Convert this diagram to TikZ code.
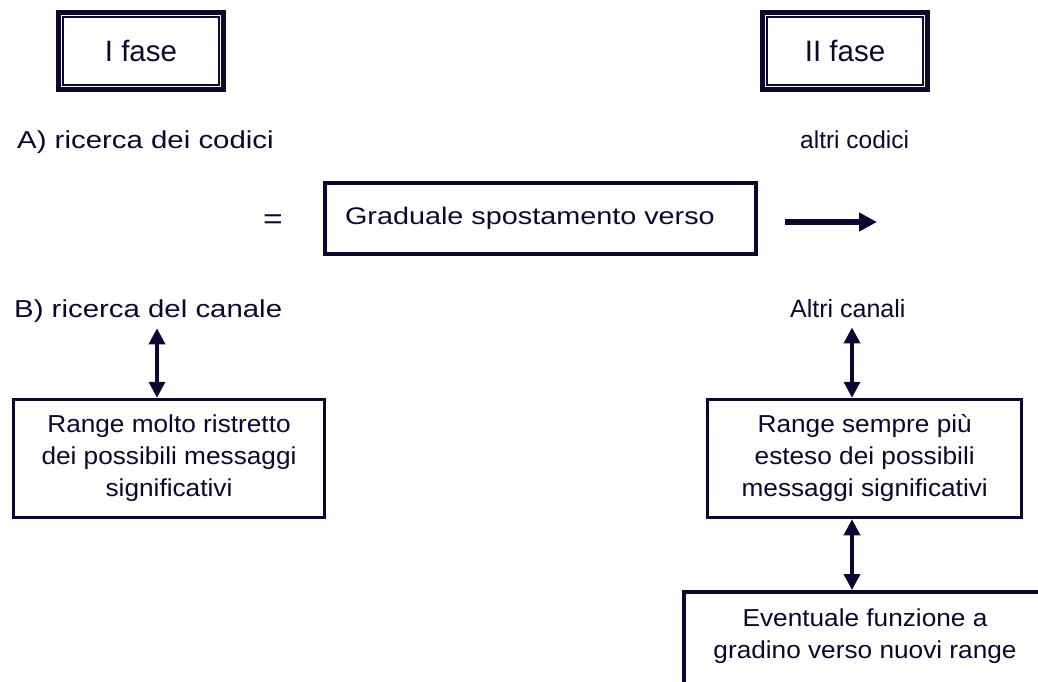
\documentclass[tikz,border=0pt]{standalone}
\usepackage{fontspec}
\setmainfont{Liberation Sans}
\newfontfamily\widefont{Liberation Sans}[FakeStretch=1.2]
\newfontfamily\midfont{Liberation Sans}[FakeStretch=1.07]
\usetikzlibrary{arrows.meta}
\definecolor{ink}{RGB}{14,6,48}

\begin{document}
\begin{tikzpicture}[x=1pt,y=-1pt,>={Triangle[length=16pt,width=16pt]}]
	\useasboundingbox (0,0) rectangle (1038,681);
	\clip (0,0) rectangle (1038,681);
	\begin{scope}[every node/.style={draw=ink,line width=5pt,minimum width=165pt,minimum height=77pt,text=ink,font=\fontsize{29.5}{34}\selectfont}]
		\node (F1) at (141,51) {I fase};
		\node (F2) at (845,51) {II fase};
	\end{scope}
	\foreach \n in {F1,F2}
		\draw [ink,line width=1.5pt] ([shift={(7pt,-7pt)}]\n.north west) rectangle ([shift={(-7pt,7pt)}]\n.south east);
	
	\begin{scope}[every node/.style={text=ink,inner sep=0pt,font=\fontsize{24.5}{31}\selectfont}]
		\node [anchor=base west,font=\widefont\fontsize{24.5}{31}\selectfont] (A) at (17,148) {A) ricerca dei codici};
		\node [anchor=base west] (AC) at (800,148) {altri codici};
		\node [anchor=base west,font=\widefont\fontsize{24.5}{31}\selectfont] (B) at (14,317) {B) ricerca del canale};
		\node [anchor=base west,font=\fontsize{25}{31}\selectfont] (BC) at (790,317) {Altri canali};
		\node [font=\widefont\fontsize{28}{31}\selectfont] (EQ) at (273,222) {=};
	\end{scope}
	
	\begin{scope}[every node/.style={draw=ink,line width=3.5pt,text=ink,align=center,font=\midfont\fontsize{24.5}{32}\selectfont}]
		\node [line width=4pt,minimum width=431pt,minimum height=71pt,text width=391pt,inner xsep=20pt,align=left,font=\widefont\fontsize{24}{31}\selectfont] (G) at (540.5,218.5) {Graduale spostamento verso};
		\node [minimum width=311pt,minimum height=118pt] (R1) at (169,458.5) {Range molto ristretto\\dei possibili messaggi\\significativi};
		\node [minimum width=314pt,minimum height=118pt] (R2) at (864.7,458.5) {Range sempre più\\esteso dei possibili\\messaggi significativi};
		\node [anchor=north,minimum width=362pt,inner ysep=17pt,text depth=45pt] (E) at (865,590) {Eventuale funzione a\\gradino verso nuovi range};
	\end{scope}
	
	\coordinate (S) at (785,222);
	\coordinate (T) at (877,222);
	\begin{scope}[every edge/.style={draw=ink,line width=3.5pt}]
		\path [->] (S) edge [line width=6pt,>={Triangle[length=18pt,width=18pt]}] (T);
		\path [<->] ([xshift=-12pt]R1.north |- B.south) edge [shorten <=6pt] ([xshift=-12pt]R1.north);
		\path [<->] ([xshift=-12.7pt]R2.north |- BC.south) edge [shorten <=10pt] ([xshift=-12.7pt]R2.north);
		\path [<->] ([xshift=-12.7pt]R2.south) edge ([xshift=-12.7pt]R2.south |- E.north);
	\end{scope}
\end{tikzpicture}
\end{document}
